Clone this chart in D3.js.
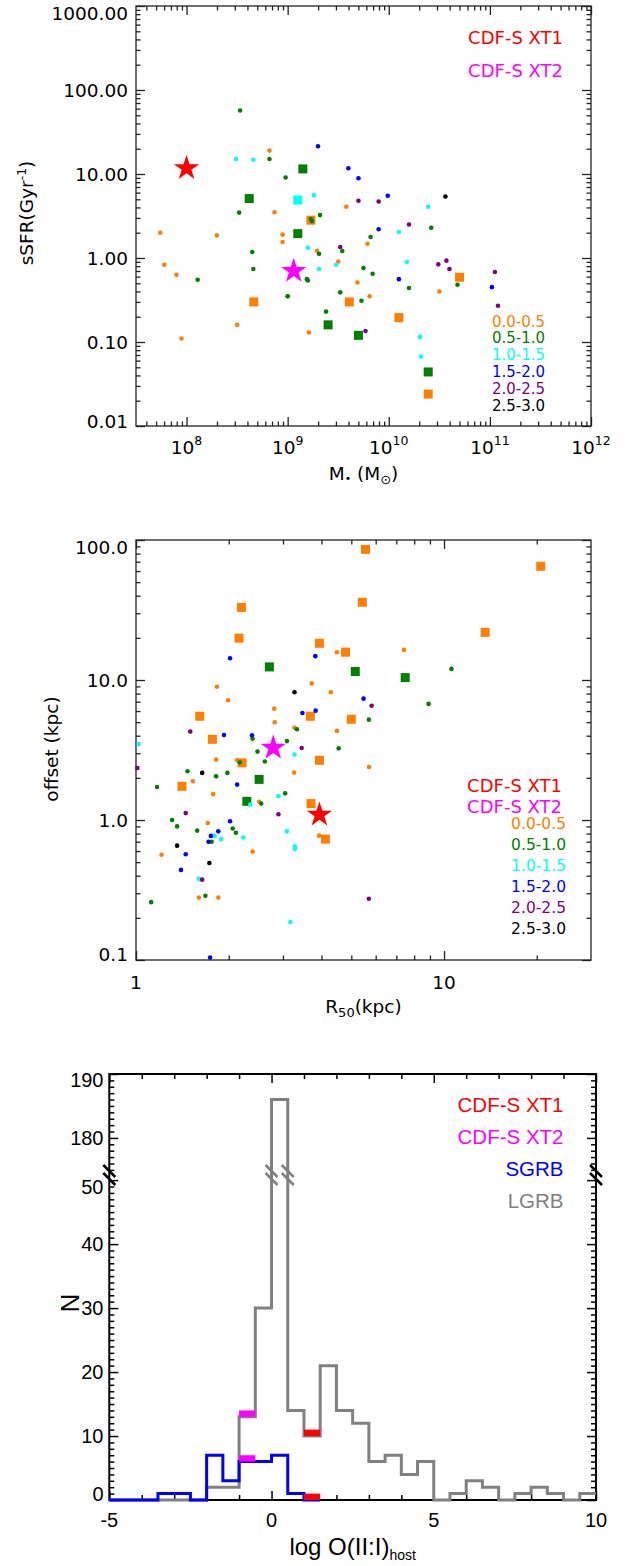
<!DOCTYPE html>
<html>
<head>
<meta charset="utf-8">
<script src="https://cdn.jsdelivr.net/npm/d3@7"></script>
<style>
  body { margin: 0; background: #fff; }
  svg { display: block; }
</style>
</head>
<body>
<div id="chart"></div>
<script>
// redshift bins shared by the two scatter panels
const binLabels = ['0.0-0.5', '0.5-1.0', '1.0-1.5', '1.5-2.0', '2.0-2.5', '2.5-3.0'];
const binColors = ['#ff7f00', '#008000', '#00ffff', '#0000ff', '#800080', '#000000'];

// panel 1: [log10 M*, sSFR (Gyr^-1)]
const sfrDotsBin1 = [[8.82, 19.0], [8.87, 3.5], [7.74, 2.0], [8.30, 1.86], [8.95, 1.9], [8.95, 1.55], [9.29, 1.22],
  [7.78, 0.83], [7.90, 0.63], [9.00, 0.35], [8.50, 0.16], [9.21, 0.13], [7.95, 0.11], [9.79, 1.48], [9.58, 4.07],
  [9.50, 0.91], [9.69, 0.51], [10.50, 0.40], [9.81, 0.35]];
const sfrDotsBin2 = [[8.53, 57], [8.82, 15.1], [8.98, 9.1], [8.52, 3.47], [9.32, 3.24], [9.23, 2.91], [9.24, 2.75],
  [8.65, 1.18], [9.31, 1.12], [8.66, 0.74], [8.11, 0.55], [9.19, 0.56], [9.20, 0.54], [9.00, 0.35], [9.82, 1.78],
  [10.42, 2.29], [9.54, 1.21], [9.75, 0.76], [9.84, 0.65], [10.20, 0.44], [10.68, 0.48], [9.52, 0.39], [9.73, 0.31],
  [9.38, 0.23]];
const sfrDotsBin3 = [[8.49, 15.1], [8.66, 14.8], [9.26, 5.6], [9.20, 1.32], [9.31, 0.74], [10.39, 4.07], [10.10, 2.04],
  [10.18, 0.90], [9.48, 0.83], [10.31, 0.115], [10.32, 0.067]];
const sfrDotsBin4 = [[9.30, 21.4], [9.60, 11.7], [9.70, 8.9], [9.99, 5.5], [9.90, 2.2], [10.10, 0.56], [11.02, 0.45]];
const sfrDotsBin5 = [[9.70, 4.8], [9.90, 4.7], [10.20, 2.5], [9.52, 1.35], [10.49, 0.84], [10.57, 0.93], [10.60, 0.74],
  [11.05, 0.68], [11.08, 0.27], [9.77, 0.135]];
const sfrDotsBin6 = [[10.56, 5.4]];
const sfrSquaresBin1 = [[9.23, 2.82], [8.665, 0.30], [9.61, 0.30], [10.10, 0.195], [10.70, 0.59], [10.39, 0.024]];
const sfrSquaresBin2 = [[9.15, 11.5], [8.62, 5.1], [9.10, 1.95], [9.40, 0.16], [9.70, 0.12], [10.39, 0.044]];
const sfrSquaresBin3 = [[9.10, 4.9]];
const sfrXT1 = [8.0, 11.7];
const sfrXT2 = [9.06, 0.70];

// panel 2: [R50 (kpc), offset (kpc)]
const offDotsBin1 = [[1.83, 8.95], [1.99, 7.16], [3.72, 9.46], [2.81, 6.24], [2.82, 4.99], [3.27, 4.56], [1.82, 2.70],
  [2.13, 2.67], [4.49, 15.8], [7.41, 16.4], [4.29, 8.17], [4.49, 4.33], [5.71, 2.39], [3.26, 2.18], [1.53, 1.89],
  [1.78, 1.53], [2.51, 1.35], [1.71, 0.953], [3.93, 0.773], [1.21, 0.565], [2.39, 0.594], [1.60, 0.279], [1.85, 0.279]];
const offDotsBin2 = [[2.39, 3.81], [3.33, 4.45], [2.48, 3.08], [3.09, 3.66], [2.62, 2.62], [2.17, 2.58], [10.57, 12.0],
  [8.91, 6.75], [5.70, 5.21], [4.55, 3.25], [1.47, 2.23], [1.82, 2.05], [1.98, 2.17], [1.17, 1.72], [2.55, 1.31],
  [3.05, 1.55], [1.31, 1.00], [1.36, 0.90], [1.58, 0.84], [2.06, 0.87], [2.11, 0.81], [1.76, 0.70], [1.68, 0.288],
  [1.12, 0.259]];
const offDotsBin3 = [[1.02, 3.49], [3.27, 2.94], [2.35, 1.29], [2.90, 1.48], [1.80, 0.77], [1.89, 0.73], [2.23, 0.75],
  [3.09, 0.83], [3.28, 0.65], [3.28, 0.62], [1.60, 0.38], [3.17, 0.187]];
const offDotsBin4 = [[2.02, 14.3], [3.47, 5.81], [3.83, 6.04], [1.93, 4.05], [2.38, 4.03], [3.82, 14.8], [5.48, 7.36],
  [2.13, 1.79], [2.02, 0.98], [1.75, 0.77], [1.85, 0.83], [1.72, 0.70], [1.45, 0.57], [1.40, 0.44], [1.74, 0.104]];
const offDotsBin5 = [[1.50, 4.28], [3.45, 3.27], [1.01, 2.35], [5.82, 6.55], [1.45, 1.12], [2.90, 1.10], [1.64, 0.375],
  [5.70, 0.274]];
const offDotsBin6 = [[3.27, 8.17], [1.64, 2.17], [1.36, 0.656], [1.73, 0.493]];
const offSquaresBin1 = [[2.20, 33.0], [2.16, 19.9], [5.56, 85.7], [20.6, 64.9], [5.43, 35.9], [13.6, 21.9], [3.94, 18.3],
  [4.79, 15.8], [1.61, 5.51], [3.68, 5.51], [1.77, 3.77], [5.00, 5.24], [2.21, 2.56], [3.94, 2.67], [1.41, 1.74],
  [3.70, 1.31], [4.12, 0.73]];
const offSquaresBin2 = [[2.71, 12.4], [5.15, 11.5], [7.48, 10.4], [2.51, 1.95], [2.29, 1.36]];
const offXT1 = [3.94, 1.09];
const offXT2 = [2.79, 3.28];

// panel 3: histograms of log O(II:I)host, bins of 0.5 starting at -5
const binStart = -5;
const binWidth = 0.5;
const lgrbCounts = [0, 0, 0, 0, 0, 0, 2, 2, 13, 30, 186, 14, 10, 21, 14, 12, 6, 7, 4, 6, 0, 1, 3, 2, 0, 1, 2, 1, 0, 1];
const sgrbCounts = [0, 0, 0, 1, 1, 0, 7, 3, 6, 6, 7, 1, 0];
const xt1Bin = 1.0;
const xt2Bin = -1.0;

const svg = d3.select('#chart').append('svg').attr('width', 639).attr('height', 1566);
const sans = 'DejaVu Sans, sans-serif';
const arial = 'Liberation Sans, Arial, sans-serif';

function logMinors(lo, hi) {
  const out = [];
  for (let k = Math.floor(Math.log10(lo)); k <= Math.ceil(Math.log10(hi)); k++) {
    for (let m = 2; m <= 9; m++) {
      const v = m * Math.pow(10, k);
      if (v > lo * 1.0001 && v < hi * 0.9999) out.push(v);
    }
  }
  return out;
}

function inwardTicks(g, scale, side, values, len, pos, stroke, width) {
  const ax = side === 'bottom' ? d3.axisBottom(scale) : side === 'top' ? d3.axisTop(scale)
    : side === 'left' ? d3.axisLeft(scale) : d3.axisRight(scale);
  ax.tickValues(values).tickSize(-len).tickFormat('');
  const t = (side === 'bottom' || side === 'top') ? `translate(0,${pos})` : `translate(${pos},0)`;
  const a = g.append('g').attr('transform', t).call(ax);
  a.select('.domain').remove();
  a.selectAll('line').attr('stroke', stroke).attr('stroke-width', width);
}

function frame(g, l, r, t, b, stroke, width) {
  g.append('rect').attr('x', l).attr('y', t).attr('width', r - l).attr('height', b - t)
    .attr('fill', 'none').attr('stroke', stroke).attr('stroke-width', width);
}

function scatter(g, x, y, dots, squares, stars) {
  squares.forEach((list, i) => {
    g.selectAll(null).data(list).enter().append('rect')
      .attr('x', d => x(d[0]) - 4.5).attr('y', d => y(d[1]) - 4.5)
      .attr('width', 9).attr('height', 9).attr('fill', binColors[i]);
  });
  dots.forEach((list, i) => {
    g.selectAll(null).data(list).enter().append('circle')
      .attr('cx', d => x(d[0])).attr('cy', d => y(d[1])).attr('r', 2.3)
      .attr('fill', binColors[i]);
  });
  const star = d3.symbol().type(d3.symbolStar).size(200);
  stars.forEach(s => {
    g.append('path').attr('d', star)
      .attr('transform', `translate(${x(s.d[0])},${y(s.d[1])})`)
      .attr('fill', s.c);
  });
}

// ---------------- panel 1 ----------------
{
  const L = 136, R = 591, T = 6, B = 426;
  const g = svg.append('g');
  const xLog = d3.scaleLog().domain([Math.pow(10, 7.5), 1e12]).range([L, R]);
  const x = v => xLog(Math.pow(10, v));
  const y = d3.scaleLog().domain([0.01, 1000]).range([B, T]);
  const axC = '#222';
  const xMaj = [1e8, 1e9, 1e10, 1e11, 1e12];
  const xMin = logMinors(xLog.domain()[0], 1e12);
  const yMaj = [0.01, 0.1, 1, 10, 100, 1000];
  const yMin = logMinors(0.01, 1000);
  inwardTicks(g, xLog, 'bottom', xMaj, 9, B, axC, 1.3);
  inwardTicks(g, xLog, 'bottom', xMin, 4.5, B, axC, 1.3);
  inwardTicks(g, xLog, 'top', xMaj, 9, T, axC, 1.3);
  inwardTicks(g, xLog, 'top', xMin, 4.5, T, axC, 1.3);
  inwardTicks(g, y, 'left', yMaj, 9, L, axC, 1.3);
  inwardTicks(g, y, 'left', yMin, 4.5, L, axC, 1.3);
  inwardTicks(g, y, 'right', yMaj, 9, R, axC, 1.3);
  inwardTicks(g, y, 'right', yMin, 4.5, R, axC, 1.3);
  frame(g, L, R, T, B, axC, 1.3);

  const fmt = d3.format('.2f');
  yMaj.forEach((v, i) => {
    const shift = i === yMaj.length - 1 ? 7 : i === 0 ? -5 : 0;
    g.append('text').attr('x', 128).attr('y', y(v) + 6.5 + shift)
      .attr('text-anchor', 'end').attr('font-family', sans).attr('font-size', 18.5).text(fmt(v));
  });
  xMaj.forEach(v => {
    const t = g.append('text').attr('x', xLog(v)).attr('y', 454)
      .attr('text-anchor', 'middle').attr('font-family', sans).attr('font-size', 18.5);
    t.append('tspan').text('10');
    t.append('tspan').attr('dy', -9).attr('font-size', 12.5).text(Math.round(Math.log10(v)));
  });
  const xt = g.append('text').attr('x', (L + R) / 2).attr('y', 480)
    .attr('text-anchor', 'middle').attr('font-family', sans).attr('font-size', 18.5);
  xt.append('tspan').text('M');
  xt.append('tspan').attr('dy', 2).attr('font-size', 11).text('\u2022');
  xt.append('tspan').attr('dy', -2).text(' (M');
  xt.append('tspan').attr('dy', 4).attr('font-size', 13).text('\u2299');
  xt.append('tspan').attr('dy', -4).text(')');
  const yt = g.append('text').attr('transform', 'translate(33,213) rotate(-90)')
    .attr('text-anchor', 'middle').attr('font-family', sans).attr('font-size', 18.5);
  yt.append('tspan').text('sSFR(Gyr');
  yt.append('tspan').attr('dy', -7).attr('font-size', 12.5).text('-1');
  yt.append('tspan').attr('dy', 7).text(')');

  scatter(g, x, y,
    [sfrDotsBin1, sfrDotsBin2, sfrDotsBin3, sfrDotsBin4, sfrDotsBin5, sfrDotsBin6],
    [sfrSquaresBin1, sfrSquaresBin2, sfrSquaresBin3],
    [{d: sfrXT1, c: '#ff0000'}, {d: sfrXT2, c: '#ff00ff'}]);

  g.append('text').attr('x', 563).attr('y', 43.5).attr('text-anchor', 'end')
    .attr('font-family', sans).attr('font-size', 18).attr('fill', '#ff0000').text('CDF-S XT1');
  g.append('text').attr('x', 563).attr('y', 76.5).attr('text-anchor', 'end')
    .attr('font-family', sans).attr('font-size', 18).attr('fill', '#ff00ff').text('CDF-S XT2');
  binLabels.forEach((lab, i) => {
    g.append('text').attr('x', 545).attr('y', 326.5 + i * 16.8).attr('text-anchor', 'end')
      .attr('font-family', sans).attr('font-size', 15).attr('fill', binColors[i]).text(lab);
  });
}

// ---------------- panel 2 ----------------
{
  const L = 136, R = 591, T = 540, B = 960;
  const g = svg.append('g');
  const x = d3.scaleLog().domain([1, 30]).range([L, R]);
  const y = d3.scaleLog().domain([0.1, 100]).range([B, T]);
  const axC = '#222';
  const xMaj = [1, 10];
  const xMin = logMinors(1, 30);
  const yMaj = [0.1, 1, 10, 100];
  const yMin = logMinors(0.1, 100);
  inwardTicks(g, x, 'bottom', xMaj, 9, B, axC, 1.3);
  inwardTicks(g, x, 'bottom', xMin, 4.5, B, axC, 1.3);
  inwardTicks(g, x, 'top', xMaj, 9, T, axC, 1.3);
  inwardTicks(g, x, 'top', xMin, 4.5, T, axC, 1.3);
  inwardTicks(g, y, 'left', yMaj, 9, L, axC, 1.3);
  inwardTicks(g, y, 'left', yMin, 4.5, L, axC, 1.3);
  inwardTicks(g, y, 'right', yMaj, 9, R, axC, 1.3);
  inwardTicks(g, y, 'right', yMin, 4.5, R, axC, 1.3);
  frame(g, L, R, T, B, axC, 1.3);

  const fmt = d3.format('.1f');
  yMaj.forEach((v, i) => {
    const shift = i === yMaj.length - 1 ? 7 : i === 0 ? -6 : 0;
    g.append('text').attr('x', 128).attr('y', y(v) + 6.5 + shift)
      .attr('text-anchor', 'end').attr('font-family', sans).attr('font-size', 18.5).text(fmt(v));
  });
  xMaj.forEach(v => {
    g.append('text').attr('x', x(v)).attr('y', 989).attr('text-anchor', 'middle')
      .attr('font-family', sans).attr('font-size', 18.5).text(v);
  });
  const xt = g.append('text').attr('x', (L + R) / 2).attr('y', 1013)
    .attr('text-anchor', 'middle').attr('font-family', sans).attr('font-size', 18.5);
  xt.append('tspan').text('R');
  xt.append('tspan').attr('dy', 4).attr('font-size', 13).text('50');
  xt.append('tspan').attr('dy', -4).text('(kpc)');
  g.append('text').attr('transform', 'translate(58,749) rotate(-90)')
    .attr('text-anchor', 'middle').attr('font-family', sans).attr('font-size', 18.5).text('offset (kpc)');

  scatter(g, x, y,
    [offDotsBin1, offDotsBin2, offDotsBin3, offDotsBin4, offDotsBin5, offDotsBin6],
    [offSquaresBin1, offSquaresBin2],
    [{d: offXT1, c: '#ff0000'}, {d: offXT2, c: '#ff00ff'}]);

  g.append('text').attr('x', 562).attr('y', 791.5).attr('text-anchor', 'end')
    .attr('font-family', sans).attr('font-size', 18).attr('fill', '#ff0000').text('CDF-S XT1');
  g.append('text').attr('x', 562).attr('y', 812.5).attr('text-anchor', 'end')
    .attr('font-family', sans).attr('font-size', 18).attr('fill', '#ff00ff').text('CDF-S XT2');
  binLabels.forEach((lab, i) => {
    g.append('text').attr('x', 566).attr('y', 828.5 + i * 21).attr('text-anchor', 'end')
      .attr('font-family', sans).attr('font-size', 15.5).attr('fill', binColors[i]).text(lab);
  });
}

// ---------------- panel 3 ----------------
{
  const L = 109.3, R = 596, T = 1074, B = 1500;
  const g = svg.append('g');
  const x = d3.scaleLinear().domain([-5, 10]).range([L, R]);
  // broken axis: 0..50.8 below the break, 174.2..190 above it
  const y = d3.scaleLinear().domain([0, 50.8, 174.2, 190]).range([B, 1175, 1175, T]);
  const yBreak = 1175;
  const xMaj = [-5, 0, 5, 10];
  const xMin = d3.range(-4, 10).filter(v => v % 5 !== 0);
  const yMaj = [0, 10, 20, 30, 40, 50, 180, 190];
  const yMin = d3.range(1, 51).concat(d3.range(175, 190)).filter(v => v % 10 !== 0);
  inwardTicks(g, x, 'bottom', xMaj, 9, B, '#000', 1.5);
  inwardTicks(g, x, 'bottom', xMin, 5, B, '#000', 1.5);
  inwardTicks(g, x, 'top', xMaj, 9, T, '#000', 1.5);
  inwardTicks(g, x, 'top', xMin, 5, T, '#000', 1.5);
  inwardTicks(g, y, 'left', yMaj, 9, L, '#000', 1.5);
  inwardTicks(g, y, 'left', yMin, 5, L, '#000', 1.5);
  inwardTicks(g, y, 'right', yMaj, 9, R, '#000', 1.5);
  inwardTicks(g, y, 'right', yMin, 5, R, '#000', 1.5);
  frame(g, L, R, T, B, '#000', 2);

  const yShift = {0: -6, 50: 6.5, 190: 6};
  yMaj.forEach(v => {
    g.append('text').attr('x', 103.5).attr('y', y(v) + 7 + (yShift[v] || 0))
      .attr('text-anchor', 'end').attr('font-family', arial).attr('font-size', 20).text(v);
  });
  xMaj.forEach(v => {
    g.append('text').attr('x', x(v)).attr('y', 1527).attr('text-anchor', 'middle')
      .attr('font-family', arial).attr('font-size', 20).text(v);
  });
  const xt = g.append('text').attr('x', (L + R) / 2).attr('y', 1555)
    .attr('text-anchor', 'middle').attr('font-family', arial).attr('font-size', 24);
  xt.append('tspan').text('log O(II:I)');
  xt.append('tspan').attr('dy', 5).attr('font-size', 14).text('host');
  g.append('text').attr('transform', 'translate(79,1303) rotate(-90)')
    .attr('text-anchor', 'middle').attr('font-family', arial).attr('font-size', 26).text('N');

  const stepLine = d3.line().curve(d3.curveStepAfter).x(d => x(d[0])).y(d => y(d[1]));
  const toSteps = counts => counts.map((c, i) => [binStart + i * binWidth, c])
    .concat([[binStart + counts.length * binWidth, counts[counts.length - 1]]]);
  g.append('path').attr('d', stepLine(toSteps(lgrbCounts)))
    .attr('fill', 'none').attr('stroke', '#808080').attr('stroke-width', 3);
  g.append('path').attr('d', stepLine(toSteps(sgrbCounts)))
    .attr('fill', 'none').attr('stroke', '#0000ff').attr('stroke-width', 3);

  // break marks on the tall bin and on both axes
  const breakMark = (cx, color) => {
    [-4, 4].forEach(off => {
      g.append('line').attr('x1', cx - 6).attr('y1', yBreak + off - 6)
        .attr('x2', cx + 6).attr('y2', yBreak + off + 6)
        .attr('stroke', color).attr('stroke-width', 2.5);
    });
  };
  const tallIdx = lgrbCounts.indexOf(d3.max(lgrbCounts));
  breakMark(x(binStart + tallIdx * binWidth), '#808080');
  breakMark(x(binStart + (tallIdx + 1) * binWidth), '#808080');
  breakMark(L, '#000');
  breakMark(R, '#000');

  // XT1 / XT2 markers on top of the bins they fall in
  const markers = [{bin: xt2Bin, c: '#ff00ff'}, {bin: xt1Bin, c: '#ff0000'}];
  markers.forEach(m => {
    const i = Math.round((m.bin - binStart) / binWidth);
    [lgrbCounts[i], sgrbCounts[i]].forEach(v => {
      g.append('rect').attr('x', x(m.bin)).attr('y', y(v + 1))
        .attr('width', x(m.bin + binWidth) - x(m.bin)).attr('height', y(v) - y(v + 1))
        .attr('fill', m.c);
    });
  });

  const leg = [['CDF-S XT1', '#ff0000'], ['CDF-S XT2', '#ff00ff'], ['SGRB', '#0000ff'], ['LGRB', '#808080']];
  leg.forEach((d, i) => {
    g.append('text').attr('x', 563.5).attr('y', 1112 + i * 31.9).attr('text-anchor', 'end')
      .attr('font-family', arial).attr('font-size', 20.5).attr('fill', d[1]).text(d[0]);
  });
}
</script>
</body>
</html>
